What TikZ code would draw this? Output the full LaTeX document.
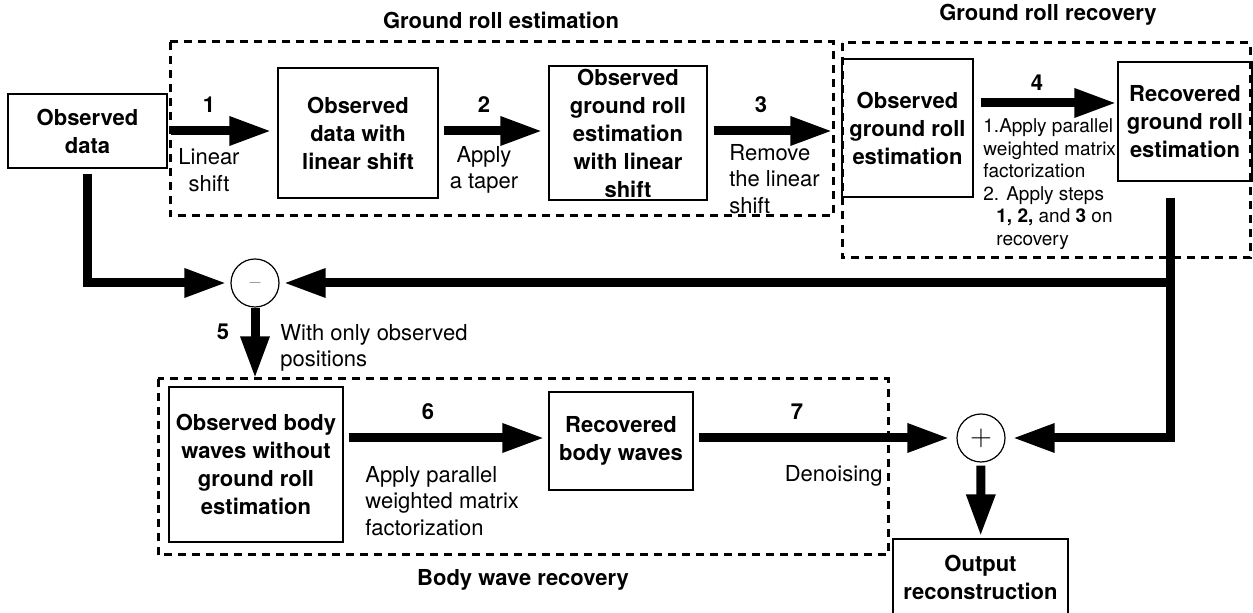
\documentclass[tikz,border=0pt]{standalone}
\usepackage{fontspec}
\setmainfont{TeX Gyre Heros}
\usepackage{tikz}
\usetikzlibrary{calc,positioning,arrows.meta}

\newcommand\blockfont{\fontsize{11}{14}\selectfont\bfseries}
\newcommand\notefont{\fontsize{11}{13.2}\selectfont}
\newcommand\smallnotefont{\fontsize{9.5}{11.25}\selectfont}

\tikzset{
  block/.style={draw,line width=0.6pt,align=center,inner sep=0pt,font=\blockfont},
  stage/.style={line width=1.5pt,dash pattern=on 4pt off 3pt},
  flow/.style={line width=4.5pt,->},
  num/.style={font=\blockfont},
  note/.style={font=\notefont,inner sep=0pt},
  junction/.style={draw,circle,line width=0.6pt,minimum size=24pt,inner sep=0pt},
}

\begin{document}
\begin{tikzpicture}[x=0.5pt,y=-0.5pt,>={Triangle[length=21pt,width=13.5pt]}]
    \useasboundingbox (0,0) rectangle (1253,613);
    %
    \draw[stage] (170,42) rectangle (833,216);
    \draw[stage] (842,43) rectangle (1250,258);
    \draw[stage] (158,379) rectangle (888,555);
    \node[num] (est_title) at (501,20) {Ground roll estimation};
    \node[num] (rec_title) at (1048,15) {Ground roll recovery};
    \node[num] (body_title) at (523,580) {Body wave recovery};
    %
    \node[block,minimum width=79.5pt,minimum height=37pt] (obs) at (87.5,131) {Observed\\data};
    \node[block,minimum width=80pt,minimum height=65pt] (shifted) at (358,133) {Observed\\data with\\linear shift};
    \node[block,minimum width=79pt,minimum height=67pt] (gr_shift) at (628,133) {Observed\\ground roll\\estimation\\with linear\\shift};
    \node[block,minimum width=65.5pt,minimum height=69pt] (gr_obs) at (907.5,128) {Observed\\ground roll\\estimation};
    \node[block,minimum width=67pt,minimum height=59.5pt] (gr_rec) at (1185,121.5) {Recovered\\ground roll\\estimation};
    \node[block,minimum width=87pt,minimum height=77.5pt] (bw_obs) at (256,464.5) {Observed body\\waves without\\ground roll\\estimation};
    \node[block,minimum width=72pt,minimum height=49pt] (bw_rec) at (621,441) {Recovered\\body waves};
    \node[block,minimum width=87.5pt,minimum height=38.5pt] (output) at (980.5,577.5) {Output\\reconstruction};
    \node[junction] (minus) at (255,283) {\fontsize{9}{9}\selectfont\textcolor{gray}{$-$}};
    \node[junction] (plus) at (981,438) {\fontsize{14}{14}\selectfont$+$};
    %
    \coordinate (s4) at ($(gr_obs.east)+(0,-25)$);
    \coordinate (gr_tap) at ($(gr_rec.south)+(-15,16)$);
    %
    \draw[flow,shorten <=1.5pt,shorten >=3pt] (obs) -- (obs -| shifted.west);
    \draw[flow,shorten <=2.5pt,shorten >=3pt] (shifted.east |- obs) -- (gr_shift.west |- obs);
    \draw[flow,shorten <=3pt,shorten >=4.5pt] (gr_shift.east |- obs) -- (gr_obs.west |- obs);
    \draw[flow,shorten <=3.5pt,shorten >=0.5pt] (s4) -- (s4 -| gr_rec.west);
    \draw[flow,shorten >=3.5pt] (gr_tap) |- (plus);
    \draw[flow,shorten >=2pt] (gr_tap |- minus) -- (minus);
    \draw[flow,shorten <=2.5pt,shorten >=2pt] (obs.south) |- (minus);
    \draw[flow,shorten >=4pt] (minus) -- (minus |- bw_obs.north);
    \draw[flow,shorten <=2.5pt,shorten >=2pt] (bw_obs.east |- plus) -- (bw_rec.west |- plus);
    \draw[flow,shorten <=2.5pt,shorten >=3.5pt] (bw_rec.east |- plus) -- (plus);
    \draw[flow,shorten <=1.5pt,shorten >=1pt] (plus) -- (output);
    %
    \node[num] (n1) at (209,105) {1};
    \node[note,align=center] (l1) at (209,170) {Linear\\shift};
    \node[num] (n2) at (484,105) {2};
    \node[note,align=center] (l2) at (484,170) {Apply\\a taper};
    \node[num] (n3) at (761,105) {3};
    \node[note,align=left,anchor=west] (l3) at (729,179) {Remove\\the linear\\shift};
    \node[num] (n4) at (1037,83) {4};
    \node[note,font=\smallnotefont,align=left,anchor=west] (l4) at (983,184) {1.Apply parallel\\weighted matrix\\factorization\\2. Apply steps\\\hspace*{6.5pt}\textbf{1, 2,} and \textbf{3} on\\\hspace*{6.5pt}recovery};
    \node[num] (n5) at (223,332) {5};
    \node[note,align=left,anchor=west] (l5) at (280,348) {With only observed\\positions};
    \node[num] (n6) at (428,412) {6};
    \node[note,align=left,anchor=west] (l6) at (365,501) {Apply parallel\\weighted matrix\\factorization};
    \node[num] (n7) at (797,412) {7};
    \node[note,anchor=east] (l7) at (883,476) {Denoising};
\end{tikzpicture}
\end{document}
